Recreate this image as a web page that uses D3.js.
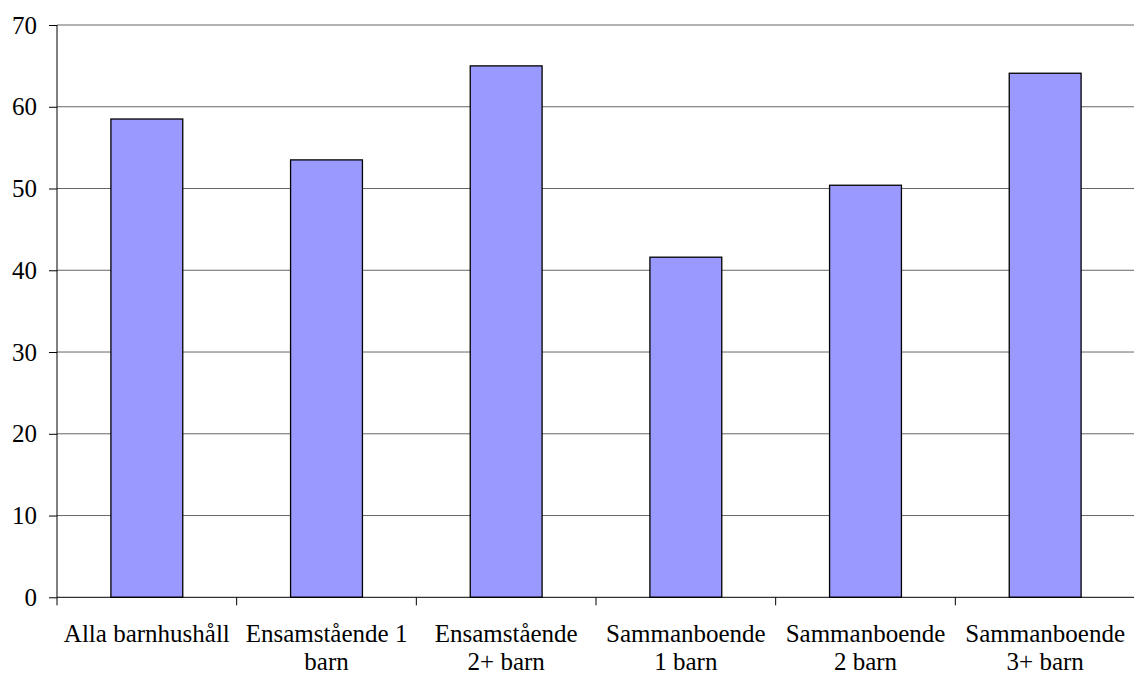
<!DOCTYPE html>
<html>
<head>
<meta charset="utf-8">
<script src="https://cdn.jsdelivr.net/npm/d3@7"></script>
<style>
  body { margin: 0; background: #fff; }
</style>
</head>
<body>
<svg id="chart" width="1134" height="677" font-family="Liberation Serif"></svg>
<script>
// category labels, one entry per line of the wrapped label
const categories = [
    ["Alla barnhushåll"],
    ["Ensamstående 1", "barn"],
    ["Ensamstående", "2+ barn"],
    ["Sammanboende", "1 barn"],
    ["Sammanboende", "2 barn"],
    ["Sammanboende", "3+ barn"]
];
const values = [58.5, 53.5, 65.0, 41.6, 50.4, 64.1];
const yTicks = [0, 10, 20, 30, 40, 50, 60, 70];

const FONT = "Liberation Serif";
const svg = d3.select("#chart");
const margin = { left: 57, right: -1, top: 25, bottom: 80 };
const WIDTH = +svg.attr("width");
const HEIGHT = +svg.attr("height");

const keys = categories.map(c => c.join(" "));

const xScale = d3.scaleBand()
                 .domain(keys)
                 .range([margin.left, WIDTH - margin.right])
                 .paddingInner(0.6)
                 .paddingOuter(0.3);

const yScale = d3.scaleLinear()
                 .domain([0, 70])
                 .range([HEIGHT - margin.bottom + 0.3, margin.top]);

// gridlines
svg.append("g")
   .selectAll("line")
   .data(yTicks.filter(d => d > 0))
   .enter()
   .append("line")
   .attr("x1", margin.left)
   .attr("x2", WIDTH - margin.right)
   .attr("y1", d => yScale(d))
   .attr("y2", d => yScale(d))
   .attr("stroke", "#666")
   .attr("stroke-width", 1);

// bars
svg.append("g")
   .selectAll("rect")
   .data(values)
   .enter()
   .append("rect")
   .attr("x", (d, i) => xScale(keys[i]))
   .attr("y", d => yScale(d))
   .attr("width", xScale.bandwidth())
   .attr("height", d => yScale(0) - yScale(d))
   .attr("fill", "#9999ff")
   .attr("stroke", "#000")
   .attr("stroke-width", 1.3);

// y axis
const yAxis = d3.axisLeft(yScale)
                .tickValues(yTicks)
                .tickSize(8)
                .tickPadding(12)
                .tickFormat(d3.format("d"));
const yG = svg.append("g")
              .attr("transform", "translate(" + margin.left + ",0)")
              .call(yAxis)
              .attr("font-family", FONT)
              .attr("font-size", 25);
yG.select(".domain").attr("stroke", "#000").attr("d", "M0," + yScale(70) + "V" + yScale(0));
yG.selectAll(".tick line").attr("stroke", "#000");
yG.selectAll(".tick text")
  .attr("fill", "#000")
  .attr("font-family", FONT)
  .attr("font-size", 25);

// x axis: boundary ticks between categories
const step = xScale.step();
const boundaries = d3.range(categories.length + 1).map(i => margin.left + i * step);
const xG = svg.append("g");
xG.append("line")
  .attr("x1", margin.left)
  .attr("x2", WIDTH)
  .attr("y1", yScale(0))
  .attr("y2", yScale(0))
  .attr("stroke", "#000");
xG.selectAll("line.tick")
  .data(boundaries)
  .enter()
  .append("line")
  .attr("class", "tick")
  .attr("x1", d => d)
  .attr("x2", d => d)
  .attr("y1", yScale(0))
  .attr("y2", yScale(0) + 8)
  .attr("stroke", "#000");

// category labels
const labels = xG.selectAll("text")
                 .data(categories)
                 .enter()
                 .append("text")
                 .attr("text-anchor", "middle")
                 .attr("fill", "#000")
                 .attr("font-family", FONT)
                 .attr("font-size", 25)
                 .attr("transform", (d, i) => "translate(" + (xScale(keys[i]) + xScale.bandwidth() / 2) + ",642)");
labels.selectAll("tspan")
      .data(d => d)
      .enter()
      .append("tspan")
      .attr("x", 0)
      .attr("dy", (d, i) => i === 0 ? 0 : 28)
      .text(d => d);
</script>
</body>
</html>
